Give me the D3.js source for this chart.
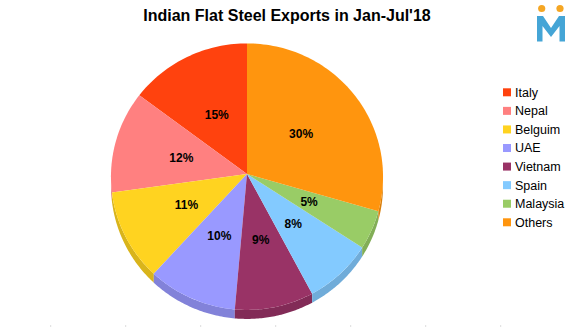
<!DOCTYPE html>
<html><head><meta charset="utf-8">
<script src="https://cdn.jsdelivr.net/npm/d3@7"></script>
<style>body{margin:0;background:#fff}svg{display:block}</style>
</head><body>
<svg id="c" width="571" height="327"></svg>
<script>
const categories = ["Italy","Nepal","Belguim","UAE","Vietnam","Spain","Malaysia","Others"];
const values = [14.8,12.4,11.0,10.4,9.2,8.0,4.7,29.5];
const colors = ["#ff420e","#ff8080","#ffd320","#9999ff","#993366","#83caff","#99cc66","#ff950e"];
const title = "Indian Flat Steel Exports in Jan-Jul'18";

const svg = d3.select("#c");
const cx = 247, cy = 174, A = 136, B = 133.2, k = 0.02, depth = 9;
const total = d3.sum(values);

svg.append("text").attr("x", 287).attr("y", 21).attr("text-anchor","middle")
  .attr("font-family","Liberation Sans, Arial, sans-serif").attr("font-weight","bold")
  .attr("font-size",16).attr("fill","#000").text(title);

const pie = d3.pie().sort(null).startAngle(0).endAngle(-2*Math.PI);
const arcs = pie(values);
const color = d3.scaleOrdinal().domain(categories).range(colors);

// perspective projection of a point on the disc (r in 0..1, a clockwise from top)
const proj = (a, r, dy=0) => {
  const den = 1 + k*r*Math.cos(a);
  return [cx + A*r*Math.sin(a)/den, cy - B*r*Math.cos(a)/den + dy];
};
const line = d3.line();

// side (3D depth) - bottom half
const side = svg.append("g");
arcs.forEach((d,i) => {
  let a0 = Math.min(d.startAngle, d.endAngle), a1 = Math.max(d.startAngle, d.endAngle);
  if (a1 <= 0) { a0 += 2*Math.PI; a1 += 2*Math.PI; }
  const lo = Math.max(a0, Math.PI/2), hi = Math.min(a1, 3*Math.PI/2);
  if (hi <= lo) return;
  const n = 48, top = [], bot = [];
  for (let j=0;j<=n;j++){ const a = lo + (hi-lo)*j/n; top.push(proj(a,1)); bot.push(proj(a,1,depth)); }
  side.append("path").attr("d", line(top.concat(bot.reverse())) + "Z")
    .attr("fill", d3.color(color(categories[i])).darker(0.45));
});

// top surface
svg.append("g").selectAll("path").data(arcs).join("path")
  .attr("d", d => {
    const n = Math.max(8, Math.ceil(Math.abs(d.endAngle-d.startAngle)*40));
    const pts = [[cx,cy]];
    for (let j=0;j<=n;j++) pts.push(proj(d.startAngle + (d.endAngle-d.startAngle)*j/n, 1));
    return line(pts) + "Z";
  })
  .attr("fill", (d,i) => color(categories[i]));

// labels
svg.append("g").selectAll("text").data(arcs).join("text")
  .attr("x", d => proj((d.startAngle+d.endAngle)/2, 0.5)[0])
  .attr("y", d => proj((d.startAngle+d.endAngle)/2, 0.5)[1])
  .attr("text-anchor","middle").attr("dy","0.35em")
  .attr("font-family","Liberation Sans, Arial, sans-serif").attr("font-weight","bold")
  .attr("font-size",12).attr("fill","#000")
  .text(d => Math.round(d.data/total*100) + "%");

// legend
const lg = svg.append("g").attr("transform","translate(503,92.3)");
categories.forEach((c,i) => {
  const row = lg.append("g").attr("transform",`translate(0,${i*18.57})`);
  row.append("rect").attr("x",0).attr("y",-4).attr("width",8).attr("height",8).attr("fill",color(c));
  row.append("text").attr("x",12).attr("y",0).attr("dy","0.35em")
    .attr("font-family","Liberation Sans, Arial, sans-serif").attr("font-size",12.5)
    .attr("fill","#000").text(c);
});

// logo
const logo = svg.append("g");
logo.append("circle").attr("cx",541.7).attr("cy",8.5).attr("r",3.6).attr("fill","#f5a623");
logo.append("circle").attr("cx",560).attr("cy",8.5).attr("r",3.6).attr("fill","#f5a623");
logo.append("path").attr("d","M537,41.5 L537,16 L543,16 L551,28 L559,16 L565,16 L565,41.5 L559.5,41.5 L559.5,26 L551,37 L542.5,26 L542.5,41.5 Z")
  .attr("fill","#45a5d6");

// faint tick marks at bottom
const ticks = d3.range(7).map(i => 50.7 + i*75);
svg.append("g").selectAll("line").data(ticks).join("line")
  .attr("x1",d=>d).attr("x2",d=>d).attr("y1",325).attr("y2",327)
  .attr("stroke","#ddd").attr("stroke-width",1);
</script>
</body></html>
